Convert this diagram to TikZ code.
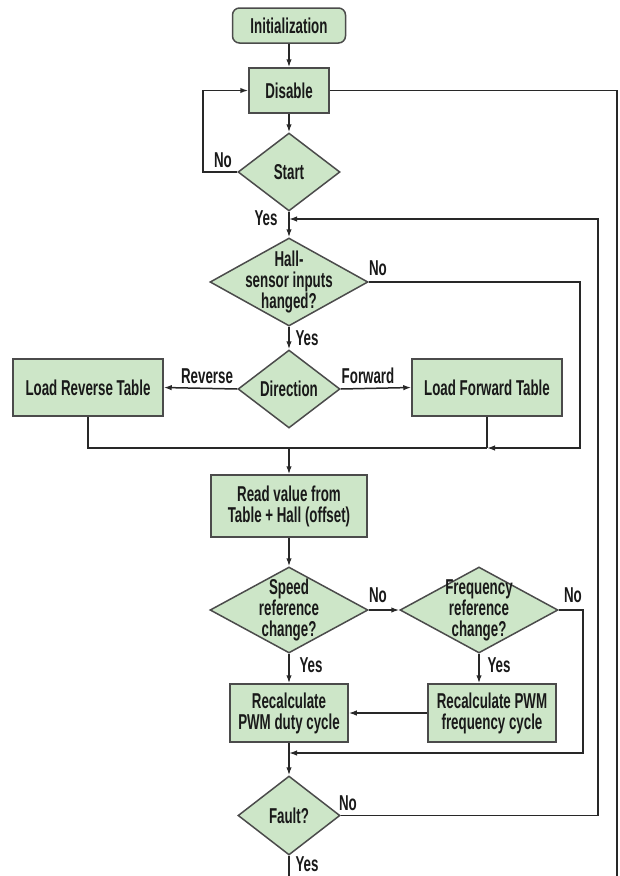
\documentclass[tikz,border=0pt]{standalone}
\usepackage{fontspec}
\setmainfont{Liberation Sans}[FakeStretch=0.62]
\usetikzlibrary{shapes.geometric,arrows.meta}
\definecolor{boxfill}{RGB}{205,230,200}
\definecolor{boxline}{RGB}{75,75,75}
\definecolor{wire}{RGB}{40,40,40}
\definecolor{ink}{RGB}{25,25,25}
\begin{document}
\begin{tikzpicture}[x=1pt,y=-1pt,
  every node/.style={font=\fontsize{21.5}{21}\selectfont\bfseries, text=ink},
  procbox/.style={draw=boxline, fill=boxfill, line width=1.5pt, inner sep=0pt, align=center},
  decbox/.style={diamond, draw=boxline, fill=boxfill, line width=1.5pt, inner sep=0pt},
  dtext/.style={inner sep=0pt, align=center},
  lbl/.style={inner sep=0pt},
  conn/.style={draw=wire, line width=1.5pt},
  arr/.style={conn, -{Latex[length=8pt,width=5.5pt]}}
]
\useasboundingbox (0,0) rectangle (620,876);

% nodes
\node[procbox, rounded corners=7pt, minimum width=113pt, minimum height=35pt] (init) at (289,25.5) {Initialization};
\node[procbox, minimum width=80pt, minimum height=45pt] (disable) at (289,90.5) {Disable};
\node[decbox, minimum width=102pt, minimum height=78pt] (start) at (289,172) {};
\node[dtext] (startt) at (start) {Start};
\node[decbox, minimum width=158pt, minimum height=88pt] (hall) at (289,282) {};
\node[dtext] (hallt) at (hall) {Hall-\\sensor inputs\\hanged?};
\node[decbox, minimum width=102pt, minimum height=78pt] (dir) at (289,389) {};
\node[dtext] (dirt) at (dir) {Direction};
\node[procbox, minimum width=150pt, minimum height=57pt] (rev) at (88,387.5) {Load Reverse Table};
\node[procbox, minimum width=150pt, minimum height=57pt] (fwd) at (487,387.5) {Load Forward Table};
\node[procbox, minimum width=156pt, minimum height=62pt] (read) at (289,506) {Read value from\\Table + Hall (offset)};
\node[decbox, minimum width=158pt, minimum height=86pt] (speed) at (289,610) {};
\node[dtext] (speedt) at (speed) {Speed\\reference\\change?};
\node[decbox, minimum width=158pt, minimum height=86pt] (freq) at (479,610) {};
\node[dtext] (freqt) at (freq) {Frequency\\reference\\change?};
\node[procbox, minimum width=118pt, minimum height=58pt] (duty) at (289,713) {Recalculate\\PWM duty cycle};
\node[procbox, minimum width=128pt, minimum height=58pt] (recf) at (492,713) {Recalculate PWM\\frequency cycle};
\node[decbox, minimum width=102pt, minimum height=79pt] (fault) at (289,815.5) {};
\node[dtext] (faultt) at (fault) {Fault?};

% junction coordinates
\coordinate (j1) at (289,219);
\coordinate (j2) at (289,448);
\coordinate (j3) at (289,753);
\coordinate (hallc) at (580,448);
\coordinate (revc) at (88,448);
\coordinate (fwdc) at (487,448);
\coordinate (freqc) at (583,753);
\coordinate (faultc) at (598,219);
\coordinate (startc) at (203,172);
\coordinate (disc) at (617,876);
\coordinate (endy) at (289,876);

% connectors
\draw[arr] (init) -- (disable);
\draw[arr] (disable) -- (start);
\draw[arr] (start.west) -- (startc) |- (disable.west);
\draw[arr] (start.south) -- (hall.north);
\draw[arr] (hall.south) -- (dir.north);
\draw[arr] (dir.west) -- (rev.east);
\draw[arr] (dir.east) -- (fwd.west);
\draw[conn] (rev.south) -- (revc) -- (fwdc);
\draw[conn] (fwd.south) -- (fwdc);
\draw[arr] (hall.east) -| (hallc) -- (fwdc);
\draw[arr] (j2) -- (read.north);
\draw[arr] (read.south) -- (speed.north);
\draw[arr] (speed.east) -- (freq.west);
\draw[arr] (speed.south) -- (duty.north);
\draw[arr] (freq.south) -- (freq.south |- recf.north);
\draw[arr] (recf.west) -- (duty.east);
\draw[arr] (freq.east) -| (freqc) -- (j3);
\draw[arr] (duty.south) -- (fault.north);
\draw[arr] (fault.east) -| (faultc) -- (j1);
\draw[conn] (fault.south) -- (endy);
\draw[conn] (disable.east) -| (disc);

% labels
\node[lbl] (l1) at (223,160) {No};
\node[lbl] (l2) at (266,218) {Yes};
\node[lbl] (l3) at (378,268) {No};
\node[lbl] (l4) at (307,338) {Yes};
\node[lbl] (l5) at (207,376) {Reverse};
\node[lbl] (l6) at (368,376) {Forward};
\node[lbl] (l7) at (378,595) {No};
\node[lbl] (l8) at (573,595) {No};
\node[lbl] (l9) at (311,665) {Yes};
\node[lbl] (l10) at (499,665) {Yes};
\node[lbl] (l11) at (348,803) {No};
\node[lbl] (l12) at (307,864) {Yes};
\end{tikzpicture}
\end{document}
